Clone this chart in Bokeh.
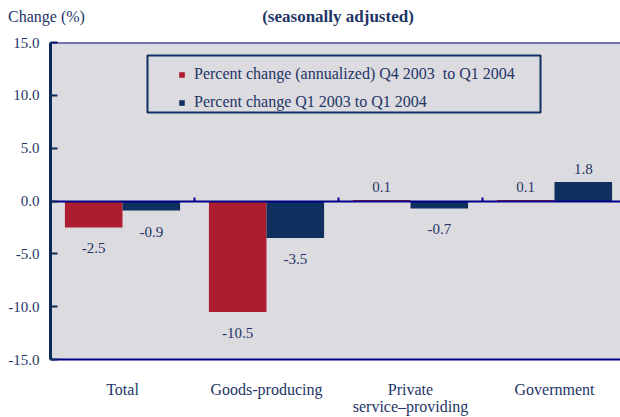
from bokeh.plotting import figure
from bokeh.layouts import column
from bokeh.models import (Range1d, FixedTicker, NumeralTickFormatter, LinearAxis, Span,
                          Legend, LegendItem, BoxAnnotation, ColumnDataSource, Div)
from bokeh.core.properties import value
from bokeh.embed import file_html
from bokeh.resources import INLINE

# ---- data ----
categories = ["Total", "Goods-producing", "Private\nservice\u2013providing", "Government"]
annualized = [-2.5, -10.5, 0.1, 0.1]
year_over_year = [-0.9, -3.5, -0.7, 1.8]
series_names = ["Percent change (annualized) Q4 2003  to Q1 2004",
                "Percent change Q1 2003 to Q1 2004"]
y_ticks = [-15, -10, -5, 0, 5, 10, 15]
y_label = "Change (%)"
title_text = "(seasonally adjusted)"

# ---- style ----
RED = "#AE1C2F"
BLUE = "#0F2F5F"
TEXT = "#1E3566"
BG = "#DCDBE0"
NAVY = "#00008B"
AXIS = "#0D2A5C"
FONT = "Liberation Serif"

n = len(categories)
centers = [i + 0.5 for i in range(n)]
bar_w = 0.4


def label_offsets(vals):
    return [-13 if v >= 0 else 21 for v in vals]


src_red = ColumnDataSource(dict(x=[c - bar_w / 2 for c in centers], top=annualized,
                                lab=[f"{v:.1f}" for v in annualized],
                                off=label_offsets(annualized)))
src_blue = ColumnDataSource(dict(x=[c + bar_w / 2 for c in centers], top=year_over_year,
                                 lab=[f"{v:.1f}" for v in year_over_year],
                                 off=label_offsets(year_over_year)))

header = Div(width=620, height=32, margin=0,
             text=(f'<div style="position:relative;width:620px;height:32px;'
                   f'font-family:\'{FONT}\';color:{TEXT};">'
                   f'<span style="position:absolute;left:8px;top:8px;font-size:16px;'
                   f'line-height:18px;white-space:nowrap;">{y_label}</span>'
                   f'<span style="position:absolute;left:338px;top:7px;font-size:17px;'
                   f'line-height:19px;font-weight:bold;white-space:nowrap;'
                   f'transform:translateX(-50%);">{title_text}</span></div>'))

p = figure(width=620, height=385, output_backend="svg", toolbar_location=None,
           x_range=Range1d(0, 570 / 144), y_range=Range1d(y_ticks[0], y_ticks[-1]),
           min_border_left=50, min_border_right=0, min_border_top=10, min_border_bottom=57,
           background_fill_color=BG, border_fill_color="white", outline_line_color=None,
           margin=0)
p.grid.visible = False

r_red = p.vbar(x="x", top="top", bottom=0, width=bar_w, source=src_red,
               fill_color=RED, line_color=None)
r_blue = p.vbar(x="x", top="top", bottom=0, width=bar_w, source=src_blue,
                fill_color=BLUE, line_color=None)

for s in (src_red, src_blue):
    p.text(x="x", y="top", text="lab", source=s, y_offset="off",
           text_align="center", text_baseline="middle",
           text_font=value(FONT), text_font_size="15px", text_color=TEXT)

# y axis
yax = p.yaxis[0]
yax.ticker = FixedTicker(ticks=y_ticks)
yax.formatter = NumeralTickFormatter(format="0.0")
yax.major_tick_in = 7
yax.major_tick_out = 0
yax.minor_tick_line_color = None
yax.major_tick_line_color = AXIS
yax.major_tick_line_width = 2
yax.axis_line_color = AXIS
yax.axis_line_width = 3
yax.major_label_text_font = FONT
yax.major_label_text_font_size = "15px"
yax.major_label_text_color = TEXT
yax.major_label_standoff = 11

# x axis (category labels, bottom border)
xax = p.xaxis[0]
xax.ticker = FixedTicker(ticks=centers)
xax.major_label_overrides = {c: cat for c, cat in zip(centers, categories)}
xax.major_tick_in = 0
xax.major_tick_out = 0
xax.minor_tick_line_color = None
xax.axis_line_color = NAVY
xax.axis_line_width = 2
xax.major_label_text_font = FONT
xax.major_label_text_font_size = "16px"
xax.major_label_text_color = TEXT
xax.major_label_text_line_height = 1.0
xax.major_label_standoff = 21

# zero line with category separators
zero_axis = LinearAxis(fixed_location=0, ticker=FixedTicker(ticks=list(range(1, n))),
                       major_tick_in=4, major_tick_out=0, minor_tick_line_color=None,
                       major_label_text_font_size="1px", major_label_text_alpha=0,
                       major_label_standoff=0,
                       axis_line_color=NAVY, axis_line_width=2,
                       major_tick_line_color=NAVY, major_tick_line_width=2)
p.add_layout(zero_axis, "below")

# top border
p.add_layout(Span(location=y_ticks[-1], dimension="width", line_color=NAVY, line_width=2))

# legend
legend = Legend(items=[LegendItem(label=series_names[0], renderers=[r_red]),
                       LegendItem(label=series_names[1], renderers=[r_blue])],
                location=(128, 248), padding=0, spacing=10, label_height=18,
                glyph_width=7, glyph_height=7, label_standoff=9, margin=0,
                border_line_alpha=0, background_fill_alpha=0,
                label_text_font=FONT, label_text_font_size="16px", label_text_color=TEXT)
p.add_layout(legend)

p.add_layout(BoxAnnotation(left=97, right=490, bottom=247, top=304,
                           left_units="screen", right_units="screen",
                           bottom_units="screen", top_units="screen",
                           fill_alpha=0, line_color=BLUE, line_alpha=1, line_width=2))

layout = column(header, p, spacing=0, margin=0)
open("out.html", "w").write(file_html(layout, INLINE))
